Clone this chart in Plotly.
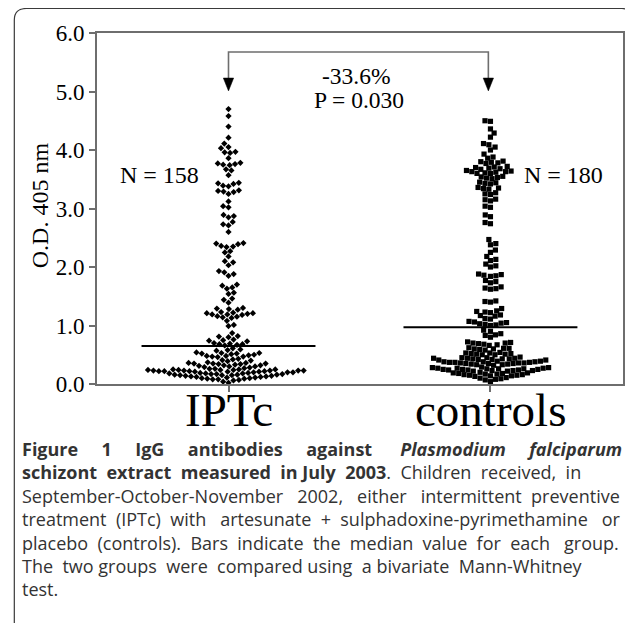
import numpy as np
import plotly.graph_objects as go

# ---------------- data ----------------
categories = ["IPTc", "controls"]

iptc_values = [
    4.70, 4.58, 4.40, 4.21, 4.11, 4.05, 4.03, 3.97, 3.96, 3.95, 3.86, 3.78, 3.77, 3.76, 3.75, 3.74,
    3.67, 3.65, 3.57, 3.44, 3.43, 3.42, 3.39, 3.38, 3.31, 3.30, 3.29, 3.28, 3.25, 3.12, 3.04, 3.02,
    2.89, 2.87, 2.85, 2.77, 2.73, 2.71, 2.60, 2.41, 2.40, 2.39, 2.36, 2.35, 2.34, 2.27, 2.25, 2.18,
    2.10, 2.08, 2.03,
    1.93, 1.91, 1.88, 1.85, 1.70, 1.68, 1.65, 1.63, 1.56, 1.54, 1.46, 1.44, 1.39,
    1.30, 1.29, 1.28, 1.27, 1.23, 1.22, 1.21, 1.21, 1.20, 1.19, 1.19, 1.18, 1.16, 1.15, 1.14, 1.13,
    1.08, 1.01, 0.99,
    0.87, 0.82, 0.81, 0.80, 0.76, 0.75, 0.74, 0.73, 0.70, 0.69, 0.68, 0.68, 0.67, 0.66,
    0.61, 0.59, 0.58, 0.57,
    0.54, 0.53, 0.53, 0.52, 0.52, 0.51, 0.50, 0.49, 0.48, 0.48, 0.47, 0.47, 0.46,
    0.43, 0.42, 0.41, 0.40, 0.39,
    0.37, 0.36, 0.36, 0.35, 0.35, 0.35, 0.34, 0.34, 0.33, 0.32, 0.32, 0.31, 0.30, 0.30, 0.29, 0.28,
    0.27, 0.26, 0.26, 0.25, 0.25, 0.25, 0.24, 0.24, 0.24, 0.24, 0.23, 0.23, 0.23, 0.23, 0.23, 0.22,
    0.22, 0.22, 0.22, 0.21, 0.21, 0.21, 0.20, 0.20, 0.20, 0.19, 0.19,
    0.18, 0.18, 0.18, 0.17, 0.17, 0.17, 0.16, 0.16, 0.16, 0.15, 0.15, 0.15, 0.14, 0.14, 0.13, 0.13,
    0.12, 0.12, 0.11, 0.11, 0.10, 0.10, 0.09, 0.09, 0.08, 0.08, 0.07, 0.06,
    0.04, 0.02,
]

controls_values = [
    4.50, 4.49, 4.36, 4.29, 4.22, 4.11, 4.09, 4.05, 4.00, 3.93, 3.88, 3.86,
    3.81, 3.80, 3.79, 3.78, 3.77,
    3.72, 3.71, 3.70, 3.69, 3.68, 3.67,
    3.65, 3.64, 3.63, 3.63, 3.62, 3.61, 3.60, 3.60,
    3.55, 3.54, 3.53, 3.52, 3.51,
    3.45, 3.44, 3.43, 3.42,
    3.36, 3.35, 3.34, 3.33,
    3.27, 3.25, 3.24,
    3.16, 3.15, 3.13,
    3.04, 3.02,
    2.89, 2.86, 2.76, 2.74, 2.47, 2.40, 2.38, 2.29, 2.25, 2.18, 2.13, 2.11, 2.05, 2.02, 2.00,
    1.88, 1.87, 1.86, 1.85, 1.84, 1.77, 1.75, 1.73, 1.66, 1.64, 1.63, 1.62, 1.42, 1.41, 1.40,
    1.29, 1.25, 1.24, 1.23, 1.22, 1.18, 1.17, 1.16, 1.12, 1.11, 1.07, 1.06, 1.05, 1.04, 1.03,
    1.02, 1.01, 1.00,
    0.92, 0.90, 0.86, 0.84, 0.83, 0.80,
    0.72, 0.71, 0.70, 0.70, 0.69, 0.68, 0.67, 0.66,
    0.62, 0.61, 0.61, 0.60, 0.60, 0.59, 0.58,
    0.54, 0.53, 0.53, 0.52, 0.52, 0.51, 0.51, 0.50, 0.50,
    0.46, 0.45, 0.45, 0.44, 0.44, 0.44, 0.43, 0.43, 0.43, 0.42, 0.42, 0.41, 0.41,
    0.39, 0.39, 0.38, 0.38, 0.38, 0.37, 0.37, 0.37, 0.36, 0.36, 0.36, 0.35, 0.35, 0.35, 0.34,
    0.34, 0.33, 0.33, 0.32,
    0.29, 0.28, 0.28, 0.27, 0.27, 0.27, 0.26, 0.26, 0.26, 0.25, 0.25, 0.25, 0.24, 0.24, 0.24,
    0.23, 0.23, 0.23, 0.22, 0.22,
    0.20, 0.19, 0.19, 0.18, 0.18, 0.17, 0.17, 0.16, 0.16, 0.15, 0.15, 0.14, 0.14, 0.13,
    0.11, 0.10, 0.09, 0.08, 0.07, 0.04,
]

medians = [0.65, 0.97]
n_labels = ["N = 158", "N = 180"]
y_tick_values = [0, 1, 2, 3, 4, 5, 6]
y_tick_labels = ["0.0", "1.0", "2.0", "3.0", "4.0", "5.0", "6.0"]
y_title = "O.D. 405 nm"
diff_label = "-33.6%"
p_label = "P = 0.030"

caption_words = [
    ["<b>Figure", "1", "IgG", "antibodies", "against", "<i>Plasmodium", "falciparum</i></b>"],
    ["<b>schizont", "extract", "measured", "in", "July", "2003</b>.", "Children", "received,", "in"],
    ["September-October-November", "2002,", "either", "intermittent", "preventive"],
    ["treatment", "(IPTc)", "with", "artesunate", "+", "sulphadoxine-pyrimethamine", "or"],
    ["placebo", "(controls).", "Bars", "indicate", "the", "median", "value", "for", "each", "group."],
    ["The", "two", "groups", "were", "compared", "using", "a", "bivariate", "Mann-Whitney"],
    ["test."],
]
# extra space widths per gap, imitating the justified caption of the reference
caption_extra = [
    [4, 4, 4, 4, 5, 4],
    [1, 1, 1, 0, 1, 1, 1, 1],
    [2, 2, 2, 1],
    [1, 1, 2, 1, 1, 2],
    [1, 1, 1, 1, 1, 1, 1, 1, 2],
    [1, 0, 1, 1, 0, 1, 0, 1],
    [],
]

# ---------------- geometry ----------------
# the page body adds an 8px margin, so the figure is 8px smaller and
# reference pixel coordinates are shifted by 8px.
OFF = 8
W, H = 633 - OFF, 623 - OFF
ML = 97 - OFF
MT = 33 - OFF
MR = W - (625 - OFF)
MB = H - (384 - OFF)
PW = W - ML - MR
PH = H - MT - MB
x_range = [-0.502, 1.506]
y_range = [0.0, 6.0]
px_per_x = PW / (x_range[1] - x_range[0])
px_per_y = PH / (y_range[1] - y_range[0])


def px2paper(rx, ry):
    fx, fy = rx - OFF, ry - OFF
    return (fx - ML) / PW, (H - MB - fy) / PH


def swarm_offsets(values, d):
    """Beeswarm: horizontal offsets (in x units) so markers of diameter d px don't collide."""
    vals = np.asarray(values, dtype=float)
    order = np.argsort(vals, kind="stable")
    placed = []
    xs = np.zeros(len(vals))
    for k, i in enumerate(order):
        y = vals[i] * px_per_y
        cands = [0.0]
        for (qx, qy) in placed:
            dy = abs(qy - y)
            if dy < d:
                dx = np.sqrt(d * d - dy * dy)
                cands.extend([qx + dx, qx - dx])
        sign = 1 if k % 2 == 0 else -1
        cands.sort(key=lambda c: (round(abs(c), 6), -sign * c))
        best = 0.0
        for c in cands:
            if all((c - qx) ** 2 + (y - qy) ** 2 >= d * d - 1e-6 for (qx, qy) in placed):
                best = c
                break
        xs[i] = best
        placed.append((best, y))
    return xs / px_per_x


serif = "Liberation Serif"
fig = go.Figure()

symbols = ["diamond", "square"]
sizes = [4.8, 5.2]
for gi, (vals, sym, sz) in enumerate(zip([iptc_values, controls_values], symbols, sizes)):
    offs = swarm_offsets(vals, 5.5)
    fig.add_trace(go.Scatter(
        x=[gi + o for o in offs], y=vals, mode="markers",
        marker=dict(symbol=sym, size=sz, color="black", line=dict(width=0)),
        showlegend=False, hoverinfo="y"))

# median bars
half = 0.332
for gi, m in enumerate(medians):
    fig.add_trace(go.Scatter(x=[gi - half, gi + half], y=[m, m], mode="lines",
                             line=dict(color="black", width=2), showlegend=False))

# comparison bracket
y_top = 5.675
y_base = 5.23
y_tip = 5.01
x_left, x_right = 0.0, 0.992
fig.add_shape(type="path",
              path=f"M {x_left},{y_base} L {x_left},{y_top} L {x_right},{y_top} L {x_right},{y_base}",
              line=dict(color="#6e6e6e", width=1.6), xref="x", yref="y")
hw = 5.2 / px_per_x
for xc in (x_left, x_right):
    fig.add_shape(type="path",
                  path=f"M {xc - hw},{y_base} L {xc + hw},{y_base} L {xc},{y_tip} Z",
                  fillcolor="black", line=dict(color="black", width=0.5), xref="x", yref="y")

ann = []


def data_text(x, y, text, size=24):
    ann.append(dict(x=x, y=y, text=text, showarrow=False, xref="x", yref="y",
                    xanchor="center", yanchor="middle",
                    font=dict(family=serif, size=size, color="black")))


data_text(0.487, 5.26, diff_label, 23.5)
data_text(0.50, 4.85, p_label, 23.5)
data_text(-0.262, 3.57, n_labels[0])
data_text(1.28, 3.57, n_labels[1])

# category labels under the ticks
_, cat_y = px2paper(0, 410)
for gi, cat in enumerate(categories):
    ann.append(dict(x=gi, y=cat_y, xref="x", yref="paper", text=cat, showarrow=False,
                    xanchor="center", yanchor="middle",
                    font=dict(family=serif, size=47, color="black")))

# y-axis title
tx, ty = px2paper(40, 205)
ann.append(dict(x=tx, y=ty, xref="paper", yref="paper", text=y_title, showarrow=False,
                textangle=-90, xanchor="center", yanchor="middle",
                font=dict(family=serif, size=24, color="black")))

# caption: one multi-line text block
NB = "\u00a0"
lines = []
for words, extra in zip(caption_words, caption_extra):
    s = words[0]
    for w, e in zip(words[1:], extra):
        s += NB * e + " " + w
    lines.append(s)
caption = "<br>".join(lines)
cx, cyp = px2paper(20, 518.5)
ann.append(dict(x=cx, y=cyp, xref="paper", yref="paper", text=caption, showarrow=False,
                xanchor="left", yanchor="middle", align="left",
                font=dict(family="Open Sans", size=18, color="#333333")))

# outer rounded frame
p = [px2paper(14, 623), px2paper(14, 20), px2paper(14, 8.5), px2paper(26, 8.5),
     px2paper(624, 8.5), px2paper(632, 8.5), px2paper(632, 16)]
fig.add_shape(type="path", xref="paper", yref="paper",
              path=(f"M {p[0][0]},{p[0][1]} L {p[1][0]},{p[1][1]} Q {p[2][0]},{p[2][1]} {p[3][0]},{p[3][1]} "
                    f"L {p[4][0]},{p[4][1]} Q {p[5][0]},{p[5][1]} {p[6][0]},{p[6][1]}"),
              line=dict(color="#3a3a3a", width=1.2))

axis_col = "#6e6e6e"
fig.update_layout(
    width=W, height=H,
    margin=dict(l=ML, r=MR, t=MT, b=MB, pad=0),
    paper_bgcolor="white", plot_bgcolor="white",
    annotations=ann,
    xaxis=dict(range=x_range, tickvals=[0, 1], ticktext=categories, showticklabels=False,
               ticks="outside", ticklen=6, tickcolor=axis_col, tickwidth=1.5,
               showline=True, linecolor=axis_col, linewidth=1.6, mirror=True,
               showgrid=False, zeroline=False, fixedrange=True),
    yaxis=dict(range=y_range, tickvals=y_tick_values, ticktext=y_tick_labels, ticks="outside",
               ticklen=6, tickcolor=axis_col, tickwidth=1.5,
               showline=True, linecolor=axis_col, linewidth=1.6, mirror=True,
               showgrid=False, zeroline=False, fixedrange=True,
               tickfont=dict(family=serif, size=23, color="black")),
)

fig.write_html("out.html")
